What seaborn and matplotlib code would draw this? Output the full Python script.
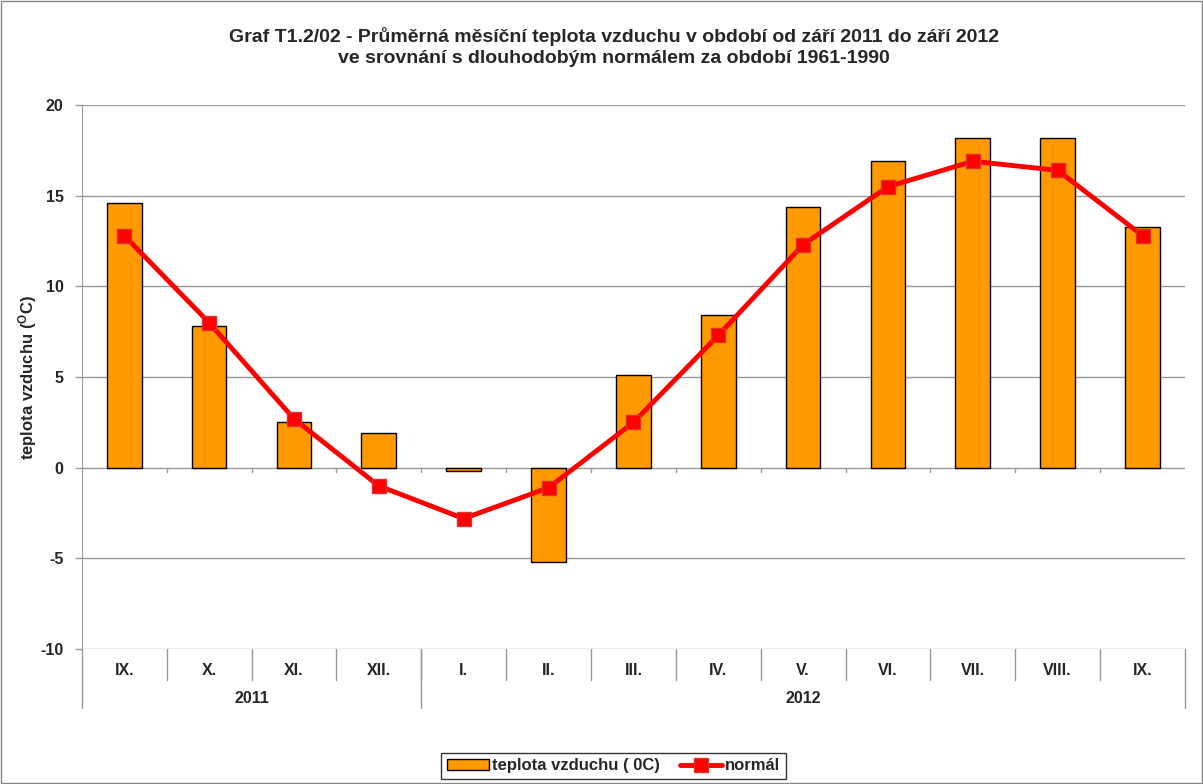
import numpy as np
import pandas as pd
import matplotlib
matplotlib.use('Agg')
import matplotlib.pyplot as plt
import matplotlib.transforms as mtransforms
from matplotlib.patches import Rectangle
import seaborn as sns

sns.set_style('white')
plt.rcParams.update({
    "font.family": ['Liberation Sans', 'DejaVu Sans'],
    "font.weight": 'bold',
    "mathtext.fontset": 'custom',
    "mathtext.rm": 'Liberation Sans:bold',
    "mathtext.it": 'Liberation Sans:bold',
    "mathtext.bf": 'Liberation Sans:bold',
})

months = ['IX.', 'X.', 'XI.', 'XII.', 'I.', 'II.', 'III.', 'IV.', 'V.', 'VI.', 'VII.', 'VIII.', 'IX.']
years = ['2011', '2012']
year_counts = [4, 9]
teplota = [14.6, 7.8, 2.5, 1.9, -0.2, -5.2, 5.1, 8.4, 14.4, 16.9, 18.2, 18.2, 13.3]
normal = [12.8, 8.0, 2.7, -1.0, -2.8, -1.1, 2.5, 7.3, 12.3, 15.5, 16.9, 16.4, 12.8]

df = pd.DataFrame({'idx': range(len(months)), 'teplota': teplota, 'normal': normal})

fig = plt.figure(figsize=(12.03, 7.84), dpi=100)
ax = fig.add_axes([0.068, 0.172, 0.917, 0.694])

# mřížka
for v in range(-5, 25, 5):
    ax.axhline(v, color='#999999', lw=1, zorder=0)
ax.axhline(-10, color='#999999', lw=1, zorder=0)

sns.barplot(data=df, x='idx', y='teplota', color='#FF9900', edgecolor='black',
            linewidth=1, width=0.41, saturation=1, ax=ax, zorder=2,
            label='teplota vzduchu ( 0C)')
ax.plot(df['idx'], df['normal'], color='#FF0000', lw=3.5, marker='s', markersize=10,
        markerfacecolor='#FF0000', markeredgecolor='#E03030', zorder=3, label='normál')
if ax.get_legend() is not None:
    ax.get_legend().remove()

ax.set_xlim(-0.5, len(months) - 0.5)
ax.set_ylim(-10, 20)
ax.set_yticks(range(-10, 25, 5))
ax.set_yticklabels([str(v) for v in range(-10, 25, 5)], fontsize=11.5, fontweight='bold')
ax.tick_params(axis='y', length=5, width=1, color='#999999', pad=8, left=True)
ax.set_xticks([])
ax.set_xlabel('')
ax.set_ylabel('teplota vzduchu ($^{O}$C)', fontsize=12, fontweight='bold', labelpad=1)

for s in ['top', 'right', 'bottom']:
    ax.spines[s].set_visible(False)
ax.spines['left'].set_color('#999999')

# malé značky na nulové ose
trans = mtransforms.blended_transform_factory(ax.transData, ax.transAxes)
for b in np.arange(0.5, len(months) - 1, 1):
    ax.plot([b, b], [0, -0.25], color='#999999', lw=1, zorder=1, clip_on=False)

# popisky kategorií
for i, m in enumerate(months):
    ax.text(i, -0.039, m, transform=trans, ha='center', va='center', fontsize=11.5, fontweight='bold')
    if 0 < i:
        ax.plot([i - 0.5, i - 0.5], [0, -0.057], transform=trans, color='#999999', lw=1, clip_on=False)
start = -0.5
bounds = [start]
for y, c in zip(years, year_counts):
    ax.text(start + c / 2, -0.09, y, transform=trans, ha='center', va='center', fontsize=11.5, fontweight='bold')
    start += c
    bounds.append(start)
for b in bounds:
    ax.plot([b, b], [0, -0.108], transform=trans, color='#999999', lw=1, clip_on=False)

fig.text(0.51, 0.953, 'Graf T1.2/02 - Průměrná měsíční teplota vzduchu v období od září 2011 do září 2012',
         ha='center', va='center', fontsize=14, fontweight='bold')
fig.text(0.51, 0.926, 've srovnání s dlouhodobým normálem za období 1961-1990',
         ha='center', va='center', fontsize=14, fontweight='bold')

handles, labels = ax.get_legend_handles_labels()
order = [labels.index('teplota vzduchu ( 0C)'), labels.index('normál')]
leg = fig.legend([handles[i] for i in order], [labels[i] for i in order], loc='center',
                 bbox_to_anchor=(0.51, 0.023), ncol=2, frameon=True, fancybox=False,
                 edgecolor='black', fontsize=12, handlelength=2.5, handletextpad=0.2,
                 columnspacing=1.2, borderpad=0.35, borderaxespad=0)
leg.get_frame().set_linewidth(1)

fig.patches.append(Rectangle((0.001, 0.001), 0.998, 0.998, transform=fig.transFigure,
                             fill=False, edgecolor='#888888', lw=1))

fig.savefig('out.png', dpi=100)
